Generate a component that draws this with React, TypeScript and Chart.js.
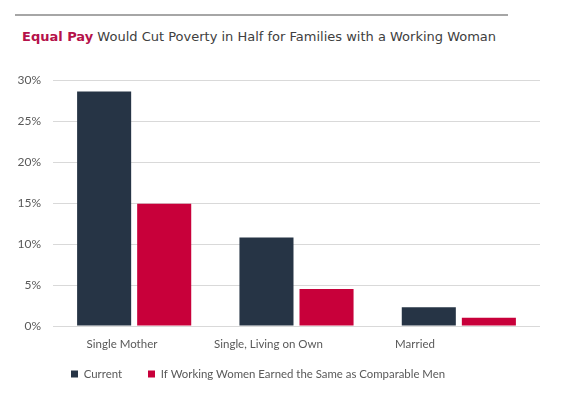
import React, { useEffect, useRef } from "react";
import { Chart, registerables } from "chart.js";

Chart.register(...registerables);

const categories = ["Single Mother", "Single, Living on Own", "Married"];
const seriesNames = ["Current", "If Working Women Earned the Same as Comparable Men"];
const currentValues = [28.6, 10.8, 2.3];
const equalPayValues = [14.9, 4.5, 1.0];
const yTickValues = [0, 5, 10, 15, 20, 25, 30];

const DARK = "#263445";
const RED = "#c8003a";
const TEXT = "#595959";
const LEGEND_FONT = 11.4;

const legendMover = {
  id: "legendMover",
  afterLayout(chart: any) {
    const lg = chart.legend;
    if (!lg || !lg.lineWidths) return;
    const pad = lg.options.labels.padding;
    const fs = LEGEND_FONT;
    const startX = 71;
    const textY = 374;
    const lw = lg.lineWidths[0];
    lg.left = startX - pad;
    lg.right = startX + lw;
    lg.top = textY - pad - fs / 2;
    lg.bottom = lg.top + fs + pad * 2;
    lg.width = lg.right - lg.left;
    lg.height = lg.bottom - lg.top;
  },
};

export default function App() {
  const ref = useRef<HTMLCanvasElement>(null);
  useEffect(() => {
    const chart = new Chart(ref.current!, {
      type: "bar",
      data: {
        labels: categories,
        datasets: [
          {
            label: seriesNames[0],
            data: currentValues,
            backgroundColor: DARK,
            xAxisID: "x",
            categoryPercentage: 0.74,
            barPercentage: 0.9,
          },
          {
            label: seriesNames[1],
            data: equalPayValues,
            backgroundColor: RED,
            xAxisID: "x",
            categoryPercentage: 0.74,
            barPercentage: 0.9,
          },
        ],
      },
      plugins: [legendMover],
      options: {
        animation: false,
        responsive: true,
        maintainAspectRatio: false,
        layout: { padding: { top: 80, right: 37, left: 0, bottom: 0 } },
        plugins: {
          tooltip: { enabled: false },
          title: { display: false },
          legend: {
            position: "bottom",
            maxHeight: 30,
            labels: {
              boxWidth: 7,
              boxHeight: 7,
              padding: 26,
              color: TEXT,
              font: { family: "Lato", size: LEGEND_FONT },
            },
          } as any,
        },
        scales: {
          x: {
            type: "category",
            display: false,
          } as any,
          x2: {
            type: "linear",
            position: "bottom",
            offset: false,
            min: -0.471,
            max: 2.853,
            grid: { display: false },
            border: { display: false },
            ticks: {
              color: TEXT,
              padding: 3,
              maxRotation: 0,
              autoSkip: false,
              font: { family: "Lato", size: 11.5 },
              callback: (v: any) => categories[v] ?? "",
            },
            afterBuildTicks: (s: any) => {
              s.ticks = [0, 1, 2].map((v) => ({ value: v }));
            },
            afterFit: (s: any) => {
              s.height = 37;
            },
          } as any,
          y: {
            min: 0,
            max: 30,
            grid: { color: "#d9d9d9", drawTicks: false },
            border: { display: false },
            ticks: {
              color: TEXT,
              padding: 12,
              font: { family: "Lato", size: 12 },
              callback: (v: any) => v + "%",
            },
            afterBuildTicks: (s: any) => {
              s.ticks = yTickValues.map((v) => ({ value: v }));
            },
            afterFit: (s: any) => {
              s.width = 53;
            },
          } as any,
        },
      },
    });
    return () => chart.destroy();
  }, []);

  return (
    <div style={{ position: "fixed", left: 0, top: 0, width: 577, height: 393, background: "#fff" }}>
      <div style={{ position: "absolute", left: 15, top: 14, width: 493, height: 0, borderTop: "2px solid #a6a6a6" }} />
      <div
        style={{
          position: "absolute",
          left: 22,
          top: 29,
          fontFamily: "DejaVu Sans",
          fontSize: 13,
          lineHeight: "16px",
          color: "#404040",
          whiteSpace: "nowrap",
        }}
      >
        <span style={{ color: "#b5124a", fontWeight: 700 }}>Equal Pay</span> Would Cut Poverty in Half for Families with a Working Woman
      </div>
      <canvas ref={ref} style={{ position: "absolute", left: 0, top: 0, width: 577, height: 393 }} />
    </div>
  );
}
